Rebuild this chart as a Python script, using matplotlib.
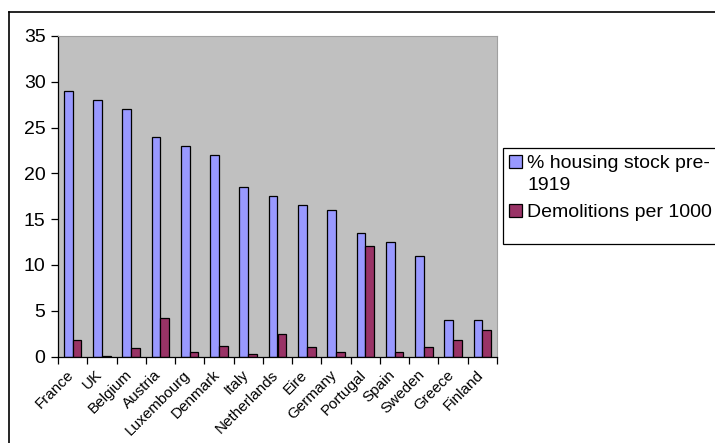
import matplotlib
matplotlib.use("Agg")
import matplotlib.pyplot as plt
import numpy as np
from matplotlib.lines import Line2D
from matplotlib.patches import Rectangle

plt.rcParams["font.family"] = ["Liberation Sans", "DejaVu Sans"]

countries = ["France", "UK", "Belgium", "Austria", "Luxembourg", "Denmark", "Italy",
             "Netherlands", "Eire", "Germany", "Portugal", "Spain", "Sweden", "Greece", "Finland"]
pre1919 = [29, 28, 27, 24, 23, 22, 18.5, 17.5, 16.5, 16, 13.5, 12.5, 11, 4, 4]
demolitions = [1.8, 0.1, 0.9, 4.2, 0.5, 1.1, 0.25, 2.45, 1.0, 0.5, 12.1, 0.5, 1.0, 1.75, 2.85]

W, H = 715, 443
fig = plt.figure(figsize=(W / 100, H / 100), dpi=100)
ax = fig.add_axes([58 / W, 1 - 356.5 / H, (497 - 58) / W, (356.5 - 36) / H])
ax.set_facecolor("#C0C0C0")

x = np.arange(len(countries))
bw = 0.3
b1 = ax.bar(x - bw / 2, pre1919, bw, color="#9999FF", edgecolor="black", lw=0.9,
            label="% housing stock pre-\n1919")
b2 = ax.bar(x + bw / 2, demolitions, bw, color="#993366", edgecolor="black", lw=0.9,
            label="Demolitions per 1000")

ax.set_xlim(-0.5, len(countries) - 0.5)
ax.set_ylim(0, 35)
ax.set_yticks(range(0, 36, 5))
# tick marks sit between categories; labels hang from invisible minor ticks
ax.set_xticks(np.arange(len(countries) + 1) - 0.5)
ax.set_xticklabels([])
ax.set_xticks(x - 0.22, minor=True)
ax.set_xticklabels(countries, minor=True, rotation=45, ha="right", rotation_mode="anchor",
                   fontsize=11)
ax.tick_params(axis="x", which="minor", length=0, pad=8)
ax.tick_params(axis="x", which="major", direction="out", length=5, width=0.9)
ax.tick_params(axis="y", direction="out", length=5, width=0.9, labelsize=14, pad=4)

for s in ["top", "right"]:
    ax.spines[s].set_color("#A0A0A0")
    ax.spines[s].set_linewidth(0.8)
for s in ["left", "bottom"]:
    ax.spines[s].set_color("black")
    ax.spines[s].set_linewidth(0.9)

# legend box drawn by hand so it keeps the tall Excel-style frame
fig.add_artist(Rectangle((503 / W, 1 - 244 / H), 0.3, 96 / H, transform=fig.transFigure,
                         facecolor="white", edgecolor="black", lw=0.9))
leg = fig.legend(handles=[b1, b2], loc="upper left",
                 bbox_to_anchor=(509 / W, 1 - 155 / H), fontsize=14,
                 frameon=False, handlelength=0.65, handleheight=0.65, handletextpad=0.3,
                 borderpad=0.0, labelspacing=0.52, borderaxespad=0)
leg.get_texts()[0].set_linespacing(1.35)
for col in leg._legend_handle_box.get_children():
    for row in col.get_children():
        row.align = "top"

# outer chart frame (top and left edges visible)
fig.add_artist(Line2D([9 / W, 9 / W], [0, 1 - 12 / H], transform=fig.transFigure,
                      color="black", lw=1.2))
fig.add_artist(Line2D([9 / W, 1], [1 - 12 / H, 1 - 12 / H], transform=fig.transFigure,
                      color="black", lw=1.2))

fig.savefig("out.png", dpi=100)
